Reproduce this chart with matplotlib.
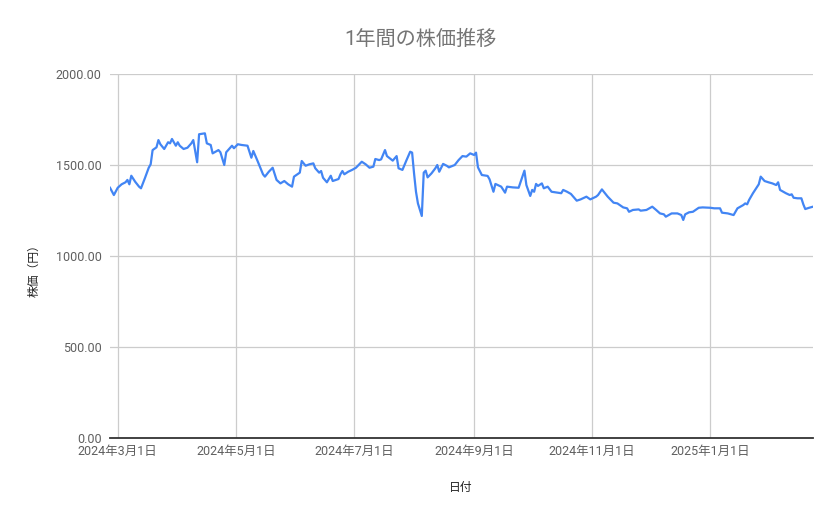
import matplotlib
matplotlib.use("Agg")
import matplotlib.pyplot as plt
import numpy as np
import pandas as pd

plt.rcParams['font.family'] = ['Roboto', 'Noto Sans CJK JP', 'DejaVu Sans']

# price readings taken off the original chart
dates = [
    "2024-02-26", "2024-02-28", "2024-03-01", "2024-03-03", "2024-03-05", "2024-03-06",
    "2024-03-07", "2024-03-08", "2024-03-10", "2024-03-12", "2024-03-13", "2024-03-15",
    "2024-03-17", "2024-03-18", "2024-03-19", "2024-03-21", "2024-03-22", "2024-03-23",
    "2024-03-25", "2024-03-27", "2024-03-28", "2024-03-29", "2024-03-31", "2024-04-01",
    "2024-04-02", "2024-04-04", "2024-04-06", "2024-04-08", "2024-04-09", "2024-04-11",
    "2024-04-12", "2024-04-15", "2024-04-16", "2024-04-18", "2024-04-19", "2024-04-22",
    "2024-04-23", "2024-04-25", "2024-04-26", "2024-04-29", "2024-04-30", "2024-05-02",
    "2024-05-04",
    "2024-05-07", "2024-05-09", "2024-05-10", "2024-05-12", "2024-05-15", "2024-05-16",
    "2024-05-18", "2024-05-20", "2024-05-22", "2024-05-24", "2024-05-26", "2024-05-28",
    "2024-05-30", "2024-05-31", "2024-06-03", "2024-06-04", "2024-06-06", "2024-06-08",
    "2024-06-10", "2024-06-11", "2024-06-13", "2024-06-14", "2024-06-15", "2024-06-17",
    "2024-06-19", "2024-06-20", "2024-06-23", "2024-06-24", "2024-06-25", "2024-06-26",
    "2024-06-28", "2024-06-30", "2024-07-02", "2024-07-05", "2024-07-07", "2024-07-09",
    "2024-07-11", "2024-07-12", "2024-07-14",
    "2024-07-15", "2024-07-17", "2024-07-18", "2024-07-21", "2024-07-23", "2024-07-24",
    "2024-07-26", "2024-07-28", "2024-07-30", "2024-07-31", "2024-08-01", "2024-08-02",
    "2024-08-03", "2024-08-05", "2024-08-06", "2024-08-07", "2024-08-08", "2024-08-10",
    "2024-08-12", "2024-08-13", "2024-08-14", "2024-08-16", "2024-08-18", "2024-08-19",
    "2024-08-22", "2024-08-24", "2024-08-26", "2024-08-28", "2024-08-30", "2024-09-01",
    "2024-09-02", "2024-09-03", "2024-09-05", "2024-09-08", "2024-09-09", "2024-09-11",
    "2024-09-12", "2024-09-15", "2024-09-17", "2024-09-18", "2024-09-21",
    "2024-09-24", "2024-09-27", "2024-09-28", "2024-09-30", "2024-10-01", "2024-10-02",
    "2024-10-03", "2024-10-04", "2024-10-06", "2024-10-07", "2024-10-09", "2024-10-11",
    "2024-10-13", "2024-10-16", "2024-10-17", "2024-10-19", "2024-10-21", "2024-10-24",
    "2024-10-26", "2024-10-29", "2024-10-31", "2024-11-03", "2024-11-04", "2024-11-06",
    "2024-11-09", "2024-11-12", "2024-11-14", "2024-11-17", "2024-11-19", "2024-11-20",
    "2024-11-22", "2024-11-25", "2024-11-26", "2024-11-29", "2024-12-02", "2024-12-04",
    "2024-12-06", "2024-12-08", "2024-12-09", "2024-12-12", "2024-12-15", "2024-12-17",
    "2024-12-18", "2024-12-19", "2024-12-21", "2024-12-23", "2024-12-26", "2024-12-28",
    "2025-01-01", "2025-01-03", "2025-01-06", "2025-01-07", "2025-01-10", "2025-01-13",
    "2025-01-15", "2025-01-18", "2025-01-19", "2025-01-20", "2025-01-21", "2025-01-23",
    "2025-01-26", "2025-01-27", "2025-01-29", "2025-01-31", "2025-02-02", "2025-02-04",
    "2025-02-05", "2025-02-06", "2025-02-09", "2025-02-11", "2025-02-12", "2025-02-13",
    "2025-02-15", "2025-02-17", "2025-02-18", "2025-02-19", "2025-02-21", "2025-02-23",
]
prices = [
    1375, 1335, 1375, 1394, 1405, 1418,
    1394, 1441, 1408, 1381, 1372, 1427,
    1485, 1504, 1582, 1597, 1637, 1614,
    1588, 1625, 1619, 1643, 1606, 1625,
    1606, 1588, 1595, 1619, 1637, 1515,
    1669, 1674, 1619, 1610, 1564, 1582,
    1570, 1500, 1570, 1606, 1592, 1614,
    1610,
    1606, 1540, 1577, 1527, 1449, 1436,
    1463, 1485, 1418, 1399, 1412, 1394,
    1381, 1436, 1458, 1522, 1496, 1504,
    1509, 1482, 1458, 1467, 1430, 1405,
    1441, 1412, 1423, 1449, 1467, 1449,
    1463, 1473, 1485, 1518, 1504, 1485,
    1491, 1533, 1527,
    1531, 1582, 1549, 1524, 1549, 1482,
    1473, 1524, 1573, 1568, 1454, 1353,
    1289, 1220, 1458, 1469, 1432, 1454,
    1482, 1500, 1463, 1506, 1495, 1487,
    1500, 1527, 1549, 1546, 1564, 1555,
    1568, 1487, 1445, 1440, 1421, 1353,
    1396, 1381, 1348, 1381, 1377,
    1375, 1469, 1390, 1330, 1363, 1353,
    1396, 1385, 1399, 1372, 1381, 1353,
    1350, 1345, 1363, 1353, 1341, 1304,
    1311, 1326, 1311, 1326, 1335, 1366,
    1326, 1293, 1289, 1267, 1262, 1243,
    1253, 1256, 1249, 1253, 1271, 1253,
    1234, 1229, 1216, 1234, 1234, 1225,
    1198, 1229, 1240, 1243, 1265, 1267,
    1265, 1262, 1262, 1238, 1234, 1225,
    1262, 1280, 1289, 1284, 1308, 1345,
    1394, 1436, 1412, 1405, 1399, 1390,
    1405, 1363, 1345, 1335, 1339, 1320,
    1317, 1317, 1284, 1258, 1265, 1271,
]

y_ticks = [0, 500, 1000, 1500, 2000]
x_ticks = ["2024-03-01", "2024-05-01", "2024-07-01", "2024-09-01", "2024-11-01", "2025-01-01"]

x = pd.to_datetime(dates)

fig = plt.figure(figsize=(8.39, 5.19), dpi=100)
ax = fig.add_axes([110 / 839, 1 - 438 / 519, (813 - 110) / 839, (438 - 74) / 519])

ax.plot(x, prices, color="#4285f4", lw=1.6, solid_joinstyle="round", zorder=3)

ax.set_xlim(x[0], x[-1])
ax.set_ylim(0, 2000)
ax.set_yticks(y_ticks)
ax.set_yticklabels([f"{v:.2f}" for v in y_ticks])
tick_dates = pd.to_datetime(x_ticks)
ax.set_xticks(tick_dates)
ax.set_xticklabels([f"{d.year}年{d.month}月{d.day}日" for d in tick_dates])

ax.grid(True, color="#cccccc", lw=0.9, zorder=0)
for s in ["top", "right", "left"]:
    ax.spines[s].set_visible(False)
ax.spines["bottom"].set_color("#333333")
ax.spines["bottom"].set_linewidth(1.3)
ax.spines["bottom"].set_zorder(4)
ax.tick_params(axis="y", length=0, pad=6, labelsize=9, labelcolor="#5f5f5f")
ax.tick_params(axis="x", length=0, pad=5, labelsize=9, labelcolor="#5f5f5f")

fig.text(420 / 839, 1 - 39 / 519, "1年間の株価推移", ha="center", va="center",
         fontsize=14.5, color="#757575")
fig.text(34 / 839, 1 - 268 / 519, "株価（円）", ha="center", va="center",
         rotation=90, fontsize=8.5, color="#222222")
fig.text(461 / 839, 1 - 487 / 519, "日付", ha="center", va="center",
         fontsize=8.5, color="#222222")

fig.savefig("out.png", dpi=100)
